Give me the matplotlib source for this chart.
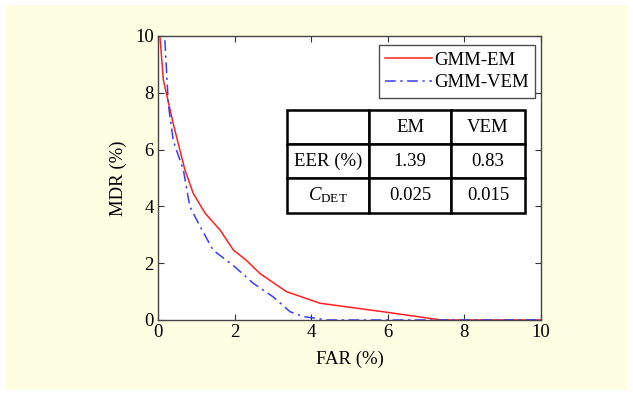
import matplotlib
matplotlib.use("Agg")
import matplotlib.pyplot as plt
from matplotlib.patches import Rectangle

# --- DATA ---
far_em = [0.05, 0.14, 0.4, 0.7, 0.92, 1.23, 1.62, 1.97, 2.3, 2.66, 3.35, 4.23, 5.88, 7.4, 10.0]
mdr_em = [10.0, 8.45, 6.9, 5.3, 4.46, 3.76, 3.17, 2.46, 2.11, 1.64, 1.0, 0.59, 0.29, 0.0, 0.0]

far_vem = [0.18, 0.27, 0.4, 0.66, 0.83, 1.1, 1.44, 2.0, 2.49, 3.0, 3.45, 3.79, 4.14, 4.4, 10.0]
mdr_vem = [9.85, 7.6, 6.3, 5.3, 4.0, 3.29, 2.46, 1.88, 1.29, 0.82, 0.29, 0.12, 0.06, 0.0, 0.0]

table_cols = ["", "EM", "VEM"]
table_rows = [["EER (%)", "1.39", "0.83"],
              ["$C_{\\mathrm{DET}}$", "0.025", "0.015"]]

# --- FIGURE ---
plt.rcParams['font.family'] = ['Liberation Serif', 'DejaVu Serif']
plt.rcParams['mathtext.fontset'] = 'custom'
plt.rcParams['mathtext.rm'] = 'Liberation Serif'
plt.rcParams['mathtext.it'] = 'Liberation Serif:italic'

W, H = 633, 394
fig = plt.figure(figsize=(W / 100, H / 100), dpi=100, facecolor='white')
bg = '#FEFEE3'
fig.patches.append(Rectangle((6 / W, 4 / H), 1 - 12 / W, 1 - 9 / H,
                             transform=fig.transFigure, facecolor=bg,
                             edgecolor='none', zorder=-10))

ax = fig.add_axes([158 / W, 1 - 320 / H, 383 / W, 284 / H])
ax.set_facecolor('white')

ax.plot(far_em, mdr_em, color='#FF2020', lw=1.1, label='GMM-EM')
ax.plot(far_vem, mdr_vem, color='#3A3AFF', lw=1.1, ls=(0, (7, 3, 1.5, 3)), label='GMM-VEM')

ax.set_xlim(0, 10)
ax.set_ylim(0, 10)
ax.set_xticks([0, 2, 4, 6, 8, 10])
ax.set_yticks([0, 2, 4, 6, 8, 10])
ax.tick_params(direction='in', length=4, top=True, right=True, labelsize=13.5,
               color='#333333', pad=3)
for s in ax.spines.values():
    s.set_color('#444444')
    s.set_linewidth(1.0)

ax.set_xlabel('FAR (%)', fontsize=13.5, labelpad=7)
ax.set_ylabel('MDR (%)', fontsize=13.5, labelpad=6)

leg = ax.legend(loc='upper right', fontsize=13.5, frameon=True, fancybox=False,
                edgecolor='#222222', handlelength=2.5, handletextpad=0.1,
                borderpad=0.35, labelspacing=0.3, borderaxespad=0.0,
                bbox_to_anchor=((535 - 158) / 383, (320 - 45) / 284))
leg.get_frame().set_linewidth(1.0)

tbl = ax.table(cellText=[table_cols] + table_rows, cellLoc='center',
               colWidths=[82.6, 81.7, 74.0],
               bbox=[(286.7 - 158) / 383, (320 - 212.7) / 284, 238.3 / 383, 102.7 / 284])
tbl.auto_set_font_size(False)
tbl.set_fontsize(13.5)
for cell in tbl.get_celld().values():
    cell.set_linewidth(1.8)
    cell.set_edgecolor('black')
    cell.set_facecolor('white')

fig.savefig('out.png', dpi=100, facecolor=fig.get_facecolor())
